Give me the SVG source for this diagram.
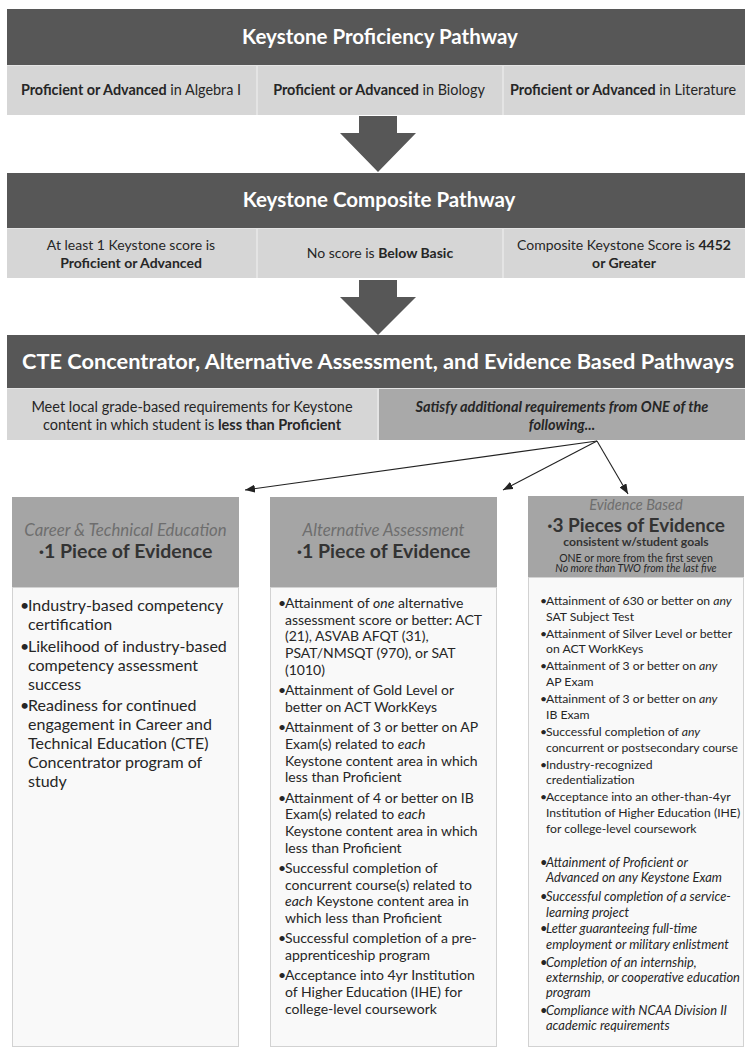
<svg xmlns="http://www.w3.org/2000/svg" width="745" height="1048" viewBox="0 0 745 1048">
<style>
text{font-family:Lato,"Liberation Sans",sans-serif;fill:#262626}
.band{fill:#575757}
.cell{fill:#d6d6d6}
.dcell{fill:#a9a9a9}
.hdr{fill:#a5a5a5}
.body{fill:#f9f9f9;stroke:#d2d2d2;stroke-width:1}
.title{fill:#fff;font-weight:bold;text-anchor:middle}
.c{text-anchor:middle}
.b{font-weight:bold}
.i{font-style:italic}
.sub{font-style:italic;fill:#6e6e6e;text-anchor:middle}
.big{font-weight:bold;fill:#333;text-anchor:middle}
.L{font-size:16px}
.M{font-size:14px}
.R{font-size:12.2px}
.RI{font-size:12.9px;font-style:italic}
.conn{stroke:#222;stroke-width:1.1;fill:none}
.down{fill:#575757}
</style>
<defs>
<marker id="ah" viewBox="0 0 10 8" refX="10" refY="4" markerWidth="10" markerHeight="8" markerUnits="userSpaceOnUse" orient="auto">
<path d="M0,0 L10,4 L0,8 z" fill="#222"/>
</marker>
</defs>
<rect width="745" height="1048" fill="#fff"/>

<g id="proficiency">
<rect class="band" x="7" y="9" width="738" height="56"/>
<text class="title" x="380" y="44" font-size="20.5">Keystone Proficiency Pathway</text>
<rect x="7" y="65" width="738" height="50" fill="#e4e4e4"/>
<rect class="cell" x="7" y="66" width="249" height="49"/>
<rect class="cell" x="258" y="66" width="244" height="49"/>
<rect class="cell" x="504" y="66" width="241" height="49"/>
<text class="c" x="131" y="95" font-size="14.4"><tspan class="b">Proficient or Advanced</tspan> in Algebra I</text>
<text class="c" x="379" y="95" font-size="14.4"><tspan class="b">Proficient or Advanced</tspan> in Biology</text>
<text class="c" x="623" y="95" font-size="14.4"><tspan class="b">Proficient or Advanced</tspan> in Literature</text>
</g>

<g id="composite">
<rect class="band" x="7" y="173" width="738" height="55"/>
<text class="title" x="379" y="207" font-size="20.5">Keystone Composite Pathway</text>
<rect x="7" y="228" width="738" height="50" fill="#e4e4e4"/>
<rect class="cell" x="7" y="229" width="249" height="49"/>
<rect class="cell" x="258" y="229" width="244" height="49"/>
<rect class="cell" x="504" y="229" width="241" height="49"/>
<text class="c" x="131" y="250" font-size="14">At least 1 Keystone score is</text>
<text class="c b" x="131" y="268" font-size="14">Proficient or Advanced</text>
<text class="c" x="380" y="258" font-size="14">No score is <tspan class="b">Below Basic</tspan></text>
<text class="c" x="624" y="250" font-size="14">Composite Keystone Score is <tspan class="b">4452</tspan></text>
<text class="c b" x="624" y="268" font-size="14">or Greater</text>
</g>

<g id="cte">
<rect class="band" x="7" y="335" width="738" height="53"/>
<text class="title" x="378" y="369" font-size="21" textLength="712" lengthAdjust="spacingAndGlyphs">CTE Concentrator, Alternative Assessment, and Evidence Based Pathways</text>
<rect x="7" y="388" width="738" height="52" fill="#e4e4e4"/>
<rect class="cell" x="7" y="389" width="370" height="51"/>
<rect class="dcell" x="379" y="389" width="366" height="51"/>
<text class="c" x="192" y="412" font-size="14.5">Meet local grade-based requirements for Keystone</text>
<text class="c" x="192" y="430" font-size="14.5">content in which student is <tspan class="b">less than Proficient</tspan></text>
<text class="c b i" x="562" y="412" font-size="14.5" fill="#333">Satisfy additional requirements from ONE of the</text>
<text class="c b i" x="562" y="430" font-size="14.5" fill="#333">following...</text>
</g>

<g id="arrows-down">
<polygon class="down" points="359,116 397,116 397,133 416,133 378,172 340,133 359,133"/>
<polygon class="down" points="359,280 397,280 397,297 416,297 378,335 340,297 359,297"/>
</g>

<g id="connectors">
<line class="conn" x1="597" y1="441" x2="245" y2="490" marker-end="url(#ah)"/>
<line class="conn" x1="597" y1="441" x2="503" y2="490" marker-end="url(#ah)"/>
<line class="conn" x1="597" y1="441" x2="628" y2="494" marker-end="url(#ah)"/>
</g>

<g id="cte-column">
<rect class="hdr" x="12" y="497" width="227" height="90"/>
<rect class="body" x="12.5" y="587.5" width="226" height="459"/>
<text class="sub" x="125.5" y="536" font-size="16.8">Career &amp; Technical Education</text>
<text class="big" x="125.5" y="558" font-size="19.5">·1 Piece of Evidence</text>
<g class="L">
<text x="20" y="611">•</text><text x="28" y="611">Industry-based competency</text>
<text x="28" y="630">certification</text>
<text x="20" y="651.5">•</text><text x="28" y="651.5">Likelihood of industry-based</text>
<text x="28" y="670.5">competency assessment</text>
<text x="28" y="689.5">success</text>
<text x="20" y="711">•</text><text x="28" y="711">Readiness for continued</text>
<text x="28" y="730">engagement in Career and</text>
<text x="28" y="749">Technical Education (CTE)</text>
<text x="28" y="768">Concentrator program of</text>
<text x="28" y="787">study</text>
</g>
</g>

<g id="alternative-column">
<rect class="hdr" x="270" y="497" width="227" height="90"/>
<rect class="body" x="270.5" y="587.5" width="226" height="459"/>
<text class="sub" x="383.5" y="536" font-size="16.8">Alternative Assessment</text>
<text class="big" x="383.5" y="558" font-size="19.5">·1 Piece of Evidence</text>
<g class="M">
<text x="278" y="608">•</text><text x="285" y="608">Attainment of <tspan class="i">one</tspan> alternative</text>
<text x="285" y="624.7">assessment score or better: ACT</text>
<text x="285" y="641.4">(21), ASVAB AFQT (31),</text>
<text x="285" y="658.1">PSAT/NMSQT (970), or SAT</text>
<text x="285" y="674.8">(1010)</text>
<text x="278" y="695.1">•</text><text x="285" y="695.1">Attainment of Gold Level or</text>
<text x="285" y="711.8">better on ACT WorkKeys</text>
<text x="278" y="732.1">•</text><text x="285" y="732.1">Attainment of 3 or better on AP</text>
<text x="285" y="748.8">Exam(s) related to <tspan class="i">each</tspan></text>
<text x="285" y="765.5">Keystone content area in which</text>
<text x="285" y="782.2">less than Proficient</text>
<text x="278" y="802.5">•</text><text x="285" y="802.5">Attainment of 4 or better on IB</text>
<text x="285" y="819.2">Exam(s) related to <tspan class="i">each</tspan></text>
<text x="285" y="835.9">Keystone content area in which</text>
<text x="285" y="852.6">less than Proficient</text>
<text x="278" y="872.9">•</text><text x="285" y="872.9">Successful completion of</text>
<text x="285" y="889.6">concurrent course(s) related to</text>
<text x="285" y="906.3"><tspan class="i">each</tspan> Keystone content area in</text>
<text x="285" y="923">which less than Proficient</text>
<text x="278" y="943.3">•</text><text x="285" y="943.3">Successful completion of a pre-</text>
<text x="285" y="960">apprenticeship program</text>
<text x="278" y="980.3">•</text><text x="285" y="980.3">Acceptance into 4yr Institution</text>
<text x="285" y="997">of Higher Education (IHE) for</text>
<text x="285" y="1013.7">college-level coursework</text>
</g>
</g>

<g id="evidence-column">
<rect class="hdr" x="528" y="496" width="216" height="81"/>
<rect class="body" x="528.5" y="577.5" width="215" height="469"/>
<text class="sub" x="636" y="510" font-size="14.5">Evidence Based</text>
<text class="big" x="636" y="531.5" font-size="19">·3 Pieces of Evidence</text>
<text class="big" x="636" y="545.5" font-size="12.2">consistent w/student goals</text>
<text class="c" x="636" y="561.5" font-size="10.5" fill="#333">ONE or more from the first seven</text>
<text class="c i" x="636" y="572" font-size="10.5" fill="#333">No more than TWO from the last five</text>
<g class="R">
<text x="540" y="605">•</text><text x="546" y="605">Attainment of 630 or better on <tspan class="i">any</tspan></text>
<text x="546" y="620.7">SAT Subject Test</text>
<text x="540" y="637.7">•</text><text x="546" y="637.7">Attainment of Silver Level or better</text>
<text x="546" y="653.4">on ACT WorkKeys</text>
<text x="540" y="670.4">•</text><text x="546" y="670.4">Attainment of 3 or better on <tspan class="i">any</tspan></text>
<text x="546" y="686.1">AP Exam</text>
<text x="540" y="703.1">•</text><text x="546" y="703.1">Attainment of 3 or better on <tspan class="i">any</tspan></text>
<text x="546" y="718.8">IB Exam</text>
<text x="540" y="735.8">•</text><text x="546" y="735.8">Successful completion of <tspan class="i">any</tspan></text>
<text x="546" y="751.5">concurrent or postsecondary course</text>
<text x="540" y="768.5">•</text><text x="546" y="768.5">Industry-recognized</text>
<text x="546" y="784.2">credentialization</text>
<text x="540" y="801.2">•</text><text x="546" y="801.2">Acceptance into an other-than-4yr</text>
<text x="546" y="816.9">Institution of Higher Education (IHE)</text>
<text x="546" y="832.6">for college-level coursework</text>
</g>
<g class="RI">
<text x="540" y="866.5">•</text><text x="546" y="866.5">Attainment of Proficient or</text>
<text x="546" y="881.5">Advanced on any Keystone Exam</text>
<text x="540" y="900.5">•</text><text x="546" y="900.5">Successful completion of a service-</text>
<text x="546" y="916.5">learning project</text>
<text x="540" y="932.5">•</text><text x="546" y="932.5">Letter guaranteeing full-time</text>
<text x="546" y="948.5">employment or military enlistment</text>
<text x="540" y="966.5">•</text><text x="546" y="966.5">Completion of an internship,</text>
<text x="546" y="981.5">externship, or cooperative education</text>
<text x="546" y="996.5">program</text>
<text x="540" y="1014.5">•</text><text x="546" y="1014.5">Compliance with NCAA Division II</text>
<text x="546" y="1029.5">academic requirements</text>
</g>
</g>
</svg>
